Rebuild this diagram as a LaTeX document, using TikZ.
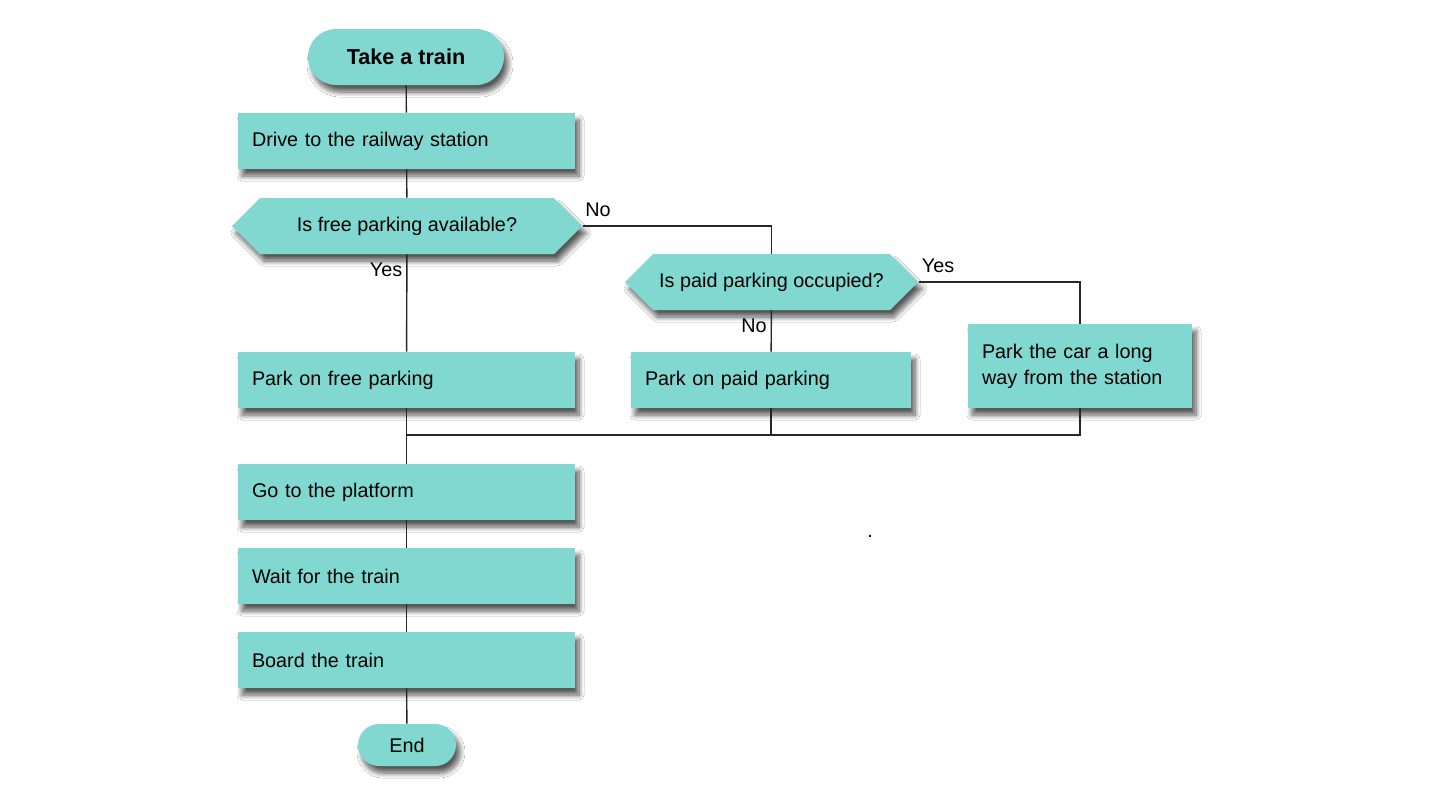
\documentclass[tikz,border=0pt]{standalone}
\usepackage{fontspec}
\setmainfont{Liberation Sans}
\usetikzlibrary{shapes.symbols,shapes.misc,shadows.blur}
\definecolor{boxteal}{RGB}{128,216,208}

\begin{document}
\begin{tikzpicture}[x=0.5pt,y=-0.5pt,
    font=\fontsize{9.9}{13}\selectfont,
    shade/.style={blur shadow={shadow xshift=2pt,shadow yshift=-3.5pt,
        shadow blur radius=2.5pt,shadow blur steps=10,shadow opacity=65}},
    terminal/.style={rounded rectangle,fill=boxteal,shade,inner sep=0pt},
    stepbox/.style={rectangle,fill=boxteal,shade,minimum height=28pt,
        inner xsep=7pt,inner ysep=0pt,align=left},
    question/.style={signal,signal to=west and east,signal pointer angle=90,
        fill=boxteal,shade,minimum height=28pt,inner sep=0pt},
    link/.style={draw=black!85,line width=0.7pt}]
  \useasboundingbox[fill=white] (0,0) rectangle (1430,800);
  % main column
  \node[terminal,minimum width=98pt,minimum height=28pt,
    font=\fontsize{10.8}{13}\selectfont\bfseries] (start) at (406,57) {Take a train};
  \node[stepbox,text width=154.5pt] (drive) at (406.5,141) {Drive to the railway station};
  \node[question,minimum width=175pt] (free) at (407,226) {Is free parking available?};
  \node[stepbox,text width=154.5pt] (onfree) at (406.5,380) {Park on free parking};
  \node[stepbox,text width=154.5pt] (platform) at (406.5,492) {Go to the platform};
  \node[stepbox,text width=154.5pt] (wait) at (406.5,576) {Wait for the train};
  \node[stepbox,text width=154.5pt] (board) at (406.5,660) {Board the train};
  \node[terminal,minimum width=49pt,minimum height=21pt] (stop) at (407,745) {End};
  % right branch
  \node[question,minimum width=146.5pt] (paid) at (771.5,282) {Is paid parking occupied?};
  \node[stepbox,text width=126pt] (onpaid) at (771,380) {Park on paid parking};
  \node[stepbox,text width=98pt,minimum height=42pt] (far) at (1080,366)
    {Park the car a long\\way from the station};
  \coordinate (merge) at (407,435);
  % answers
  \node (noA) at (598,210) {No};
  \node (yesA) at (386,270) {Yes};
  \node (yesB) at (938,266) {Yes};
  \node (noB) at (754,326) {No};
  \node (dot) at (870,536) {.};
  \begin{scope}[link]
    \draw (start) -- (drive);
    \draw (drive) -- (free);
    \draw (free) -- (onfree);
    \draw (free.east) -| (paid.north);
    \draw (paid) -- (onpaid);
    \draw (paid.east) -| (far.north);
    \draw (onfree) -- (platform);
    \draw (onpaid.south) |- (merge);
    \draw (far.south) |- (merge);
    \draw (platform) -- (wait);
    \draw (wait) -- (board);
    \draw (board) -- (stop);
  \end{scope}
\end{tikzpicture}
\end{document}
